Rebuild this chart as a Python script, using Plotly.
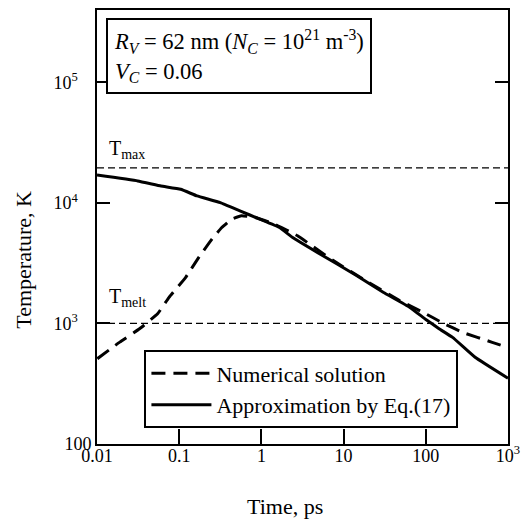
import plotly.graph_objects as go

# Data
t_approx = [0.01, 0.0313, 0.060, 0.104, 0.165, 0.316, 0.548, 0.955, 1.66, 2.40, 4.79, 14.5, 30.3, 63.4,
            100, 145, 212, 398, 1000]
T_approx = [17000, 15200, 13810, 12960, 11420, 10050, 8590, 7330, 6250, 5160, 3880, 2490, 1815, 1365,
            1080, 904, 766, 524, 351]

t_num = [0.0101, 0.0189, 0.0329, 0.0546, 0.0753, 0.12, 0.173, 0.25, 0.33, 0.435, 0.573, 0.83, 1.445, 2.75,
         7.5, 19.4, 48, 92, 160, 280, 643, 1000]
T_num = [510, 700, 903, 1203, 1648, 2415, 3530, 5010, 6250, 7330, 7810, 7570, 6670, 5330,
         3320, 2225, 1550, 1240, 1010, 844, 697, 632]

T_max = 19500
T_melt = 1000
t_span = [0.01, 1000]

x_tickvals = [0.01, 0.1, 1, 10, 100, 1000]
x_ticktext = ["0.01", "0.1", "1", "10", "100", "10<sup>3</sup>"]
y_tickvals = [100, 1000, 10000, 100000]
y_ticktext = ["100", "10<sup>3</sup>&nbsp;&nbsp;&nbsp;", "10<sup>4</sup>&nbsp;&nbsp;&nbsp;", "10<sup>5</sup>&nbsp;&nbsp;&nbsp;"]

FONT = "Liberation Serif, Times New Roman, serif"

L, R, T, B = 97, 15, 8, 80
PW, PH = 528 - L - R, 524 - T - B


def px(x):
    return (x - L) / PW


def py(y):
    return (T + PH - y) / PH


fig = go.Figure()
fig.add_trace(go.Scatter(x=t_span, y=[T_max, T_max], mode="lines",
                         line=dict(color="black", width=1.3, dash="7px,4px"),
                         showlegend=False, hoverinfo="skip"))
fig.add_trace(go.Scatter(x=t_span, y=[T_melt, T_melt], mode="lines",
                         line=dict(color="black", width=1.3, dash="7px,4px"),
                         showlegend=False, hoverinfo="skip"))
fig.add_trace(go.Scatter(x=t_num, y=T_num, mode="lines", name="Numerical solution",
                         line=dict(color="black", width=3, dash="14px,8px", shape="spline", smoothing=0.3),
                         legendgroup="a"))
fig.add_trace(go.Scatter(x=t_approx, y=T_approx, mode="lines", name="Approximation by Eq.(17)",
                         line=dict(color="black", width=3, shape="spline", smoothing=0.3),
                         legendgroup="b"))

fig.update_layout(
    width=528, height=524,
    margin=dict(l=L, r=R, t=T, b=B),
    paper_bgcolor="white", plot_bgcolor="white",
    font=dict(family=FONT, size=18, color="black"),
    showlegend=True,
    legend=dict(x=px(145), y=py(350), xanchor="left", yanchor="top",
                bordercolor="black", borderwidth=2, bgcolor="white",
                font=dict(family=FONT, size=22), itemwidth=60, tracegroupgap=9,
                traceorder="normal"),
    xaxis=dict(type="log", range=[-2, 3], tickvals=x_tickvals, ticktext=x_ticktext,
               ticks="inside", ticklen=15, tickwidth=2, tickcolor="black",
               showline=True, linecolor="black", linewidth=2, mirror=True,
               showgrid=False, zeroline=False, tickfont=dict(size=18),
               ticklabelstandoff=-6),
    yaxis=dict(type="log", range=[2, 5.6], tickvals=y_tickvals, ticktext=y_ticktext,
               ticks="inside", ticklen=13, tickwidth=2, tickcolor="black",
               showline=True, linecolor="black", linewidth=2, mirror="ticks",
               showgrid=False, zeroline=False, tickfont=dict(size=18),
               ticklabelstandoff=0),
)

fig.add_annotation(xref="paper", yref="paper", x=px(106), y=py(16),
                   xanchor="left", yanchor="top", align="left", showarrow=False,
                   text="<i>R</i><sub><i>V</i></sub> = 62 nm (<i>N</i><sub><i>C</i></sub> = 10<sup>21</sup> m<sup>-3</sup>)<br><i>V</i><sub><i>C</i></sub> = 0.06",
                   font=dict(family=FONT, size=22.5), bordercolor="black", borderwidth=2,
                   borderpad=6, bgcolor="white")
fig.add_annotation(xref="paper", yref="paper", x=px(107), y=py(148),
                   xanchor="left", yanchor="middle", showarrow=False,
                   text="T<sub>max</sub>", font=dict(family=FONT, size=20))
fig.add_annotation(xref="paper", yref="paper", x=px(107), y=py(297),
                   xanchor="left", yanchor="middle", showarrow=False,
                   text="T<sub>melt</sub>", font=dict(family=FONT, size=20))
fig.add_annotation(xref="paper", yref="paper", x=px(23), y=py(259),
                   xanchor="center", yanchor="middle", showarrow=False, textangle=-90,
                   text="Temperature, K", font=dict(family=FONT, size=22))
fig.add_annotation(xref="paper", yref="paper", x=px(287), y=py(507),
                   xanchor="center", yanchor="middle", showarrow=False,
                   text="Time, ps", font=dict(family=FONT, size=22))

fig.write_html("out.html", config={"displayModeBar": False},
               post_script="document.body.style.margin='0px';document.body.style.overflow='hidden';")
